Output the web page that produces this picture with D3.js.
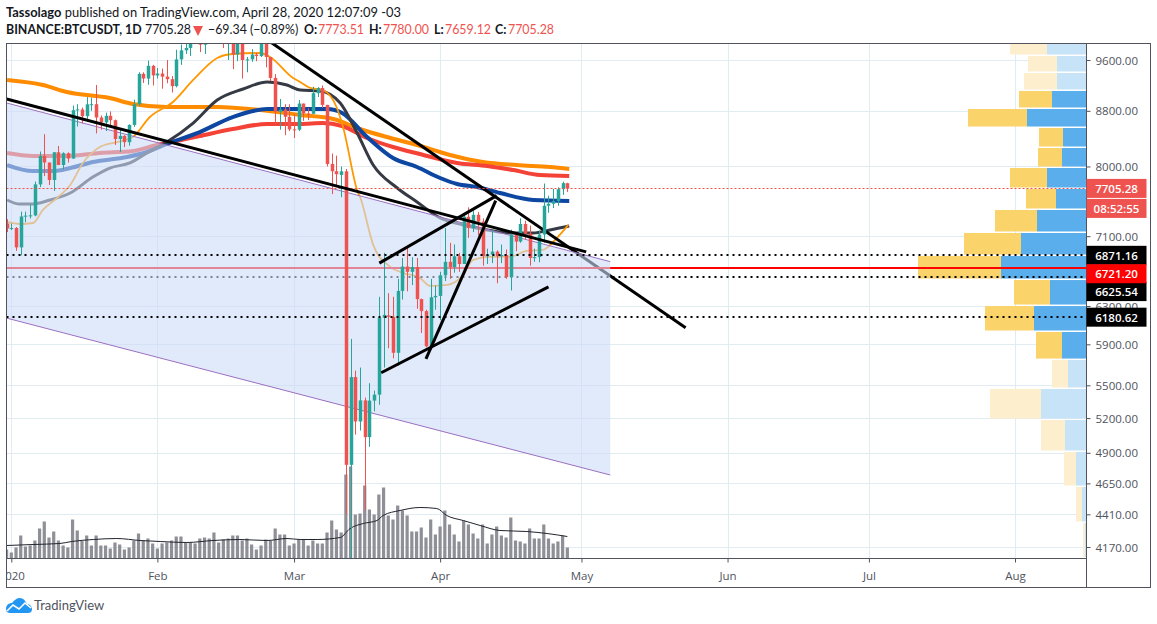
<!DOCTYPE html>
<html>
<head>
<meta charset="utf-8">
<script src="https://cdn.jsdelivr.net/npm/d3@7"></script>
<style>
  html, body { margin: 0; padding: 0; background: #fff; }
  svg { display: block; }
  text { font-family: "Open Sans", sans-serif; }
</style>
</head>
<body>
<svg id="chart" width="1157" height="624"></svg>
<script>
// first candle is 31 Dec 2019, one value per day after that
const candleOpen = [7255,7195,7200,6965,7345,7354,7357,7758,8145,8054,7817,8197,8020,8184,8110,8814,8820,8720,8900,8900,8700,8627,8725,8660,8385,8430,8340,8590,8900,9375,9300,9505,9350,9380,9330,9290,9180,9610,9760,9800,9900,10160,9855,10270,10350,10235,10365,9905,9935,9690,10140,9600,9610,9690,9665,9970,9650,9310,8785,8820,8710,8525,8520,8910,8760,8755,9070,9150,8890,8035,7935,7885,7934,4800,5578,5170,5360,5033,5358,5413,6175,6200,6185,5815,6465,6740,6680,6735,6375,6245,5880,6395,6410,6640,6795,6735,6860,6770,7340,7200,7365,7280,6860,6880,6915,6860,6875,6620,7115,7035,7250,7130,6840,6850,7120,7480,7505,7540,7695,7773.51];
const candleHigh = [7310,7255,7212,7405,7404,7495,7795,8207,8455,8055,8199,8286,8197,8196,8880,8900,8850,9009,9000,9198,8730,8773,8790,8670,8515,8440,8600,8970,9400,9400,9590,9520,9470,9460,9600,9340,9770,9860,9880,9945,10170,10190,10400,10495,10500,10390,10380,10080,9970,10250,10200,9650,9780,9720,9990,10020,9650,9370,8980,8900,8900,8750,8965,8910,8840,9170,9165,9190,8890,8180,8150,8000,7966,5955,5640,5670,5385,5520,5450,6400,6900,6440,6400,6600,6840,6980,6850,6840,6380,6260,6600,6525,6680,7200,7020,7000,6900,7380,7460,7420,7400,7320,6950,7180,6930,7000,6940,7180,7150,7320,7290,7230,6950,7170,7770,7610,7700,7720,7795,7780];
const candleLow = [7150,7175,6924,6871,7272,7318,7346,7723,7870,7750,7672,8030,7960,8055,8105,8567,8612,8672,8800,8467,8520,8500,8570,8300,8200,8270,8290,8560,8875,9230,9200,9190,9300,9140,9225,9080,9160,9520,9700,9666,9885,9730,9700,10240,10090,10130,9800,9600,9450,9580,9300,9400,9570,9580,9650,9480,9260,8600,8520,8440,8500,8400,8500,8650,8660,8750,9010,8845,8000,7630,7735,7590,4410,3782,5055,5090,4442,4950,5260,5320,5670,5860,5760,5690,6370,6460,6530,6270,6015,5870,5850,6260,6150,6575,6600,6670,6680,6770,7080,7150,7110,6750,6770,6780,6550,6780,6600,6470,6920,7020,7060,6750,6795,6790,7020,7390,7450,7480,7620,7659.12];
const candleClose = [7195,7200,6965,7344,7354,7358,7758,8145,8055,7817,8197,8020,8184,8110,8810,8821,8720,8898,8900,8700,8627,8725,8660,8385,8430,8340,8590,8900,9375,9300,9505,9350,9380,9330,9290,9180,9610,9760,9800,9900,10160,9855,10270,10350,10235,10365,9905,9935,9690,10140,9600,9610,9690,9665,9970,9650,9310,8785,8820,8710,8525,8520,8910,8760,8755,9070,9150,8890,8035,7935,7895,7934,4800,5578,5170,5360,5033,5358,5413,6175,6205,6185,5815,6465,6740,6680,6735,6375,6245,5880,6395,6410,6640,6795,6735,6860,6770,7340,7200,7365,7280,6860,6880,6915,6860,6875,6620,7115,7035,7250,7130,6840,6850,7120,7480,7505,7540,7695,7775,7705.28];
const volumes = [9,6,11,23,12,13,18,30,37,21,27,18,13,11,39,28,18,23,13,23,13,13,10,16,14,9,11,18,25,18,20,15,10,15,16,18,22,22,16,16,15,20,21,20,26,16,19,20,23,23,18,20,14,9,13,19,18,30,24,24,13,15,19,19,13,18,15,15,26,38,29,26,84,92,44,45,73,49,44,64,71,43,39,53,48,43,27,27,31,21,39,24,32,48,34,24,17,38,34,25,20,34,15,24,32,23,21,41,18,17,15,30,20,20,34,20,15,17,23,11];

// moving averages, [days since 1 Jan 2020, value]
const maFast = [[-0.9,7275],[1.8,7250],[4.6,7262],[6.7,7426],[9.7,7580],[12.5,7750],[15.2,8048],[18.8,8271],[22.4,8342],[25.8,8414],[29.4,8707],[34.3,8934],[38.6,9277],[43.7,9633],[47,9699],[52.8,9716],[54.9,9650],[59.8,9309],[61.3,9245],[63.4,9151],[66.1,9119],[69.1,8843],[70.4,8560],[73.6,7645],[74,7593],[76.8,6995],[80.4,6737],[83.1,6668],[86.7,6611],[88.9,6521],[92.5,6532],[95.9,6645],[98,6818],[101.6,6853],[105.8,6853],[109.4,6924],[112.8,6936],[115.8,7079],[118.2,7238]];
const maDark = [[-0.9,7554],[1.8,7502],[4.6,7502],[8.2,7554],[12.5,7645],[17.3,7857],[20.9,7979],[25.2,8048],[28.8,8187],[33,8342],[38.6,8618],[43.7,8964],[49.2,9135],[54.3,9245],[58.5,9198],[61.3,9119],[65.5,9104],[69.8,8918],[73.4,8472],[76.8,8020],[81.9,7711],[86.1,7528],[91,7325],[95.9,7238],[101,7176],[105.8,7139],[110.8,7139],[114.3,7176],[118.4,7225]];
const maBlue = [[-0.9,8020],[4.6,7938],[8.9,7938],[12.5,7979],[17.3,8062],[24.6,8131],[28.8,8201],[33,8314],[40,8486],[47,8707],[54.3,8827],[61.3,8827],[67,8827],[70.2,8767],[75.5,8414],[81,8117],[86.1,7993],[91,7844],[94.6,7764],[98.8,7724],[103.7,7645],[110.8,7554],[118.4,7541]];
const maRed = [[-0.9,8187],[4.6,8145],[11.8,8145],[18.8,8187],[25.8,8215],[30.9,8300],[33,8328],[40,8429],[47,8530],[54.3,8604],[61.3,8604],[66.1,8618],[70.2,8574],[75.5,8400],[81,8271],[86.7,8173],[94.6,8048],[101,8007],[106.5,7952],[112.2,7884],[118.4,7871]];
const maOrange = [[-0.9,9277],[6.7,9198],[11.8,9088],[20.9,8995],[25.8,8903],[33,8858],[43.7,8858],[52.8,8812],[61.3,8737],[68.3,8678],[74,8530],[79.7,8414],[86.1,8300],[93.1,8159],[100.1,8062],[107.3,8020],[114.3,7993],[118.4,7966]];
const volumeMa = [[-1,13],[4.6,14],[10.3,15],[12.8,17],[17.4,19],[22.4,20],[27.3,18],[31.6,17],[37.2,16],[42.8,18],[48.5,19],[54.2,18],[58.5,20],[61.3,19],[64.9,19],[69.8,21],[71.9,30],[74.7,35],[77.6,38],[78.9,43],[82.5,48],[86.7,51],[90.3,50],[92.4,43],[95.9,38],[99.5,33],[103.7,28],[109.4,27],[113.7,25],[118,22]];

// hand drawn trend lines, [day, price] at each end
const trendLong = [[-1,8980],[122,6912]];
const trendSteep = [[55,9900],[143.1,6070]];
const forkUpper = [[78.1,6780],[103,7610]];
const forkMiddle = [[102.8,7545],[88,5754]];
const forkLower = [[78.5,5620],[114,6510]];

// parallel channel
const channelTop = [[-1,8919],[127.1,6797]];
const channelBottom = [[-1,6171],[127.1,4717]];

const levelsOver = [6871.16, 6180.62];
const levelsUnder = [6625.54];
const levelRed = 6721.20;
const lastPrice = 7705.28;

const priceTicks = [9600, 8800, 8000, 7100, 6300, 5900, 5500, 5200, 4900, 4650, 4410, 4170];
const monthTicks = ["2020-01-01", "2020-02-01", "2020-03-01", "2020-04-01", "2020-05-01", "2020-06-01", "2020-07-01", "2020-08-01"];
const monthLabels = ["2020", "Feb", "Mar", "Apr", "May", "Jun", "Jul", "Aug"];

// volume profile, rows go from high price to low price
const vpEdges = [9950,9674,9397,9112,8835,8552,8264,7986,7704,7432,7145,6869,6592,6305,6031,5748,5470,5187,4911,4625,4349,4092];
const vpUp = [39.5,29.5,29.5,34.5,59.5,23.5,24.5,39.5,30.5,49.5,65.5,85.5,36.5,52.5,24.5,18.5,45.5,21.5,10.5,4.5,1.5];
const vpDown = [37,29,33,33,59,24,24,37,30,42,57,83,36,49,26,16,51,24,12,6,2];
const vpFaded = [true,true,true,false,false,false,false,false,false,false,false,false,false,false,false,true,true,true,true,true,true];

const svg = d3.select("#chart");
const paneLeft = 6.5, paneRight = 1086.5, paneTop = 43.5, paneBottom = 558.5, outerRight = 1150.5, outerBottom = 587.5;

const dayMs = 864e5;
const t0 = Date.UTC(2020, 0, 1);
const dayToDate = d => new Date(t0 + d * dayMs);

const x = d3.scaleUtc()
  .domain([new Date("2020-01-01"), new Date("2020-08-01")])
  .range([11.3, 1015]);

const y = d3.scaleLog()
  .domain([9600, 4170])
  .range([60, 547]);

const yVol = d3.scaleLinear().domain([0, 100]).range([paneBottom, paneBottom - 100]);
const vpWidth = d3.scaleLinear().domain([0, 100]).range([0, 100]);

const defs = svg.append("defs");
defs.append("clipPath").attr("id", "pane").append("rect")
  .attr("x", paneLeft).attr("y", paneTop).attr("width", paneRight - paneLeft).attr("height", paneBottom - paneTop);
defs.append("clipPath").attr("id", "timeBand").append("rect")
  .attr("x", paneLeft).attr("y", paneBottom).attr("width", paneRight - paneLeft).attr("height", outerBottom - paneBottom);

const pane = svg.append("g").attr("clip-path", "url(#pane)");

// Grid
const gridColor = "#e0ebf2";
pane.append("g").selectAll("line").data(priceTicks).enter().append("line")
  .attr("x1", paneLeft).attr("x2", paneRight)
  .attr("y1", d => Math.round(y(d)) + 0.5).attr("y2", d => Math.round(y(d)) + 0.5)
  .attr("stroke", gridColor);
pane.append("g").selectAll("line").data(monthTicks).enter().append("line")
  .attr("y1", paneTop).attr("y2", paneBottom)
  .attr("x1", d => Math.round(x(new Date(d))) + 0.5).attr("x2", d => Math.round(x(new Date(d))) + 0.5)
  .attr("stroke", gridColor);

// Volume profile
const vpRows = vpUp.map((u, i) => ({ up: u, down: vpDown[i], hi: vpEdges[i], lo: vpEdges[i + 1], faded: vpFaded[i] }));
pane.append("g").selectAll("rect").data(vpRows).enter().append("rect")
  .attr("x", d => paneRight - vpWidth(d.up))
  .attr("y", d => y(d.hi) + 0.5)
  .attr("width", d => vpWidth(d.up))
  .attr("height", d => y(d.lo) - y(d.hi) - 1.5)
  .attr("fill", d => d.faded ? "#c6e3f7" : "#5aaeec");
pane.append("g").selectAll("rect").data(vpRows).enter().append("rect")
  .attr("x", d => paneRight - vpWidth(d.up) - vpWidth(d.down))
  .attr("y", d => y(d.hi) + 0.5)
  .attr("width", d => vpWidth(d.down))
  .attr("height", d => y(d.lo) - y(d.hi) - 1.5)
  .attr("fill", d => d.faded ? "#fdefce" : "#fbd36b");

// Volume bars
pane.append("g").selectAll("rect").data(volumes).enter().append("rect")
  .attr("x", (d, i) => x(dayToDate(i - 1)) - 1.6)
  .attr("y", d => yVol(d))
  .attr("width", 3.2)
  .attr("height", d => paneBottom - yVol(d))
  .attr("fill", "#8f8f97");

const maLine = d3.line()
  .x(d => x(dayToDate(d[0])))
  .y(d => y(d[1]))
  .curve(d3.curveMonotoneX);

pane.append("path").datum(volumeMa)
  .attr("fill", "none").attr("stroke", "#22242e").attr("stroke-width", 1)
  .attr("d", d3.line().x(d => x(dayToDate(d[0]))).y(d => yVol(d[1])).curve(d3.curveMonotoneX));

// Moving averages, these end up under the channel fill
const maStyles = [
  [maOrange, "#ff8c00", 4],
  [maRed, "#f44336", 4],
  [maBlue, "#0d47a1", 4],
  [maDark, "#363a45", 3],
  [maFast, "#ff9800", 1.8],
];
maStyles.forEach(([data, color, w]) => {
  pane.append("path").datum(data)
    .attr("fill", "none").attr("stroke", color).attr("stroke-width", w)
    .attr("stroke-linejoin", "round").attr("d", maLine);
});

const trendLine = d3.line().x(d => x(dayToDate(d[0]))).y(d => y(d[1]));

function drawTrend(data) {
  pane.append("path").datum(data)
    .attr("fill", "none").attr("stroke", "#000").attr("stroke-width", 3)
    .attr("d", trendLine);
}

function drawLevel(v, color, w, dash) {
  pane.append("line")
    .attr("x1", paneLeft).attr("x2", paneRight)
    .attr("y1", Math.round(y(v))).attr("y2", Math.round(y(v)))
    .attr("stroke", color).attr("stroke-width", w)
    .attr("stroke-dasharray", dash);
}

drawTrend(trendSteep);
levelsUnder.forEach(v => drawLevel(v, "#000", 2, "2 4"));
drawLevel(levelRed, "#ff0000", 2, null);

// Channel fill goes over the indicators
const channelPoly = channelTop.concat(channelBottom.slice().reverse());
pane.append("path").datum(channelPoly)
  .attr("fill", "rgba(205,220,248,0.6)")
  .attr("d", d3.line().x(d => x(dayToDate(d[0]))).y(d => y(d[1])));
[channelTop, channelBottom].forEach(c => {
  pane.append("path").datum(c)
    .attr("fill", "none").attr("stroke", "#9c6fc0").attr("stroke-width", 1)
    .attr("d", trendLine);
});

// Candles
const candles = candleOpen.map((o, i) => ({
  day: i - 1, open: o, high: candleHigh[i], low: candleLow[i], close: candleClose[i],
}));
const upColor = "#26a69a", downColor = "#ef5350";
const candleColor = d => d.close >= d.open ? upColor : downColor;
const candleX = d => Math.round(x(dayToDate(d.day)));

pane.append("g").selectAll("line").data(candles).enter().append("line")
  .attr("x1", d => candleX(d) + 0.5).attr("x2", d => candleX(d) + 0.5)
  .attr("y1", d => y(d.high)).attr("y2", d => y(d.low))
  .attr("stroke", candleColor);
pane.append("g").selectAll("rect").data(candles).enter().append("rect")
  .attr("x", d => candleX(d) - 1.25)
  .attr("y", d => y(Math.max(d.open, d.close)))
  .attr("width", 3.5)
  .attr("height", d => Math.max(1, Math.abs(y(d.open) - y(d.close))))
  .attr("fill", candleColor);

// Last price dotted line
pane.append("line")
  .attr("x1", paneLeft).attr("x2", paneRight)
  .attr("y1", Math.round(y(lastPrice)) + 0.5).attr("y2", Math.round(y(lastPrice)) + 0.5)
  .attr("stroke", "#ef5350").attr("stroke-dasharray", "2 2");

[trendLong, forkUpper, forkMiddle, forkLower].forEach(drawTrend);
levelsOver.forEach(v => drawLevel(v, "#000", 2, "2 4"));

// Frame
const frameColor = "#50535e";
svg.append("rect")
  .attr("x", paneLeft).attr("y", paneTop).attr("width", outerRight - paneLeft).attr("height", outerBottom - paneTop)
  .attr("fill", "none").attr("stroke", frameColor);

// Axes
const timeAxis = d3.axisBottom(x)
  .tickValues(monthTicks.map(d => new Date(d)))
  .tickFormat((d, i) => monthLabels[i])
  .tickSizeInner(4).tickSizeOuter(0).tickPadding(9);
const timeG = svg.append("g")
  .attr("clip-path", "url(#timeBand)")
  .append("g")
  .attr("transform", `translate(0,${paneBottom})`)
  .call(timeAxis);

const priceAxis = d3.axisRight(y)
  .tickValues(priceTicks)
  .tickFormat(d3.format(".2f"))
  .tickSizeInner(4).tickSizeOuter(0).tickPadding(5);
const priceG = svg.append("g")
  .attr("transform", `translate(${paneRight},0)`)
  .call(priceAxis);

[timeG, priceG].forEach(g => {
  g.select(".domain").remove();
  g.selectAll("line").attr("stroke", frameColor);
  g.selectAll("text").attr("fill", frameColor).style("font-size", "11.5px").style("font-family", '"Open Sans", sans-serif');
});
priceG.selectAll("text").attr("dy", ".36em");

svg.append("line").attr("x1", paneLeft).attr("x2", paneRight).attr("y1", paneBottom).attr("y2", paneBottom).attr("stroke", frameColor);
svg.append("line").attr("x1", paneRight).attr("x2", paneRight).attr("y1", paneTop).attr("y2", outerBottom).attr("stroke", frameColor);

// Price tags on the axis, the low ones get pushed apart
const tags = [
  { label: "6180.62", value: 6180.62, shift: 0, fill: "#000" },
  { label: "6625.54", value: 6625.54, shift: 15, fill: "#000" },
  { label: "6871.16", value: 6871.16, shift: 0, fill: "#000" },
  { label: "6721.20", value: 6721.20, shift: 5.5, fill: "#ff0000" },
  { label: "7705.28", value: 7705.28, shift: 0, fill: "#ef5350" },
  { label: "08:52:55", value: 7705.28, shift: 20, fill: "#ef5350" },
];
const tagG = svg.append("g").selectAll("g").data(tags).enter().append("g")
  .attr("transform", d => `translate(${paneRight},${y(d.value) + d.shift})`);
tagG.append("rect")
  .attr("x", 0).attr("y", -9.5).attr("width", 60).attr("height", 19)
  .attr("fill", d => d.fill);
tagG.append("text")
  .attr("x", 30).attr("y", 4.5)
  .attr("text-anchor", "middle")
  .attr("fill", "#fff")
  .style("font-size", "11.5px").style("font-weight", 600)
  .text(d => d.label);

// Header
const ink = "#131722";
const header = svg.append("g");
const line1 = header.append("text").attr("x", 6).attr("y", 17).attr("fill", ink)
  .style("font-family", "Lato, sans-serif").style("font-size", "12.9px");
line1.append("tspan").style("font-weight", 700).text("Tassolago");
line1.append("tspan").text(" published on TradingView.com, April 28, 2020 12:07:09 -03");

const headerRuns = [
  ["BINANCE:BTCUSDT, 1D", 6, ink, 700],
  ["7705.28", 145, ink, 400],
  ["\u221269.34 (\u22120.89%)", 208, ink, 400],
  ["O:", 304, ink, 700],
  ["7773.51", 318, "#ef5350", 400],
  ["H:", 369, ink, 700],
  ["7780.00", 383, "#ef5350", 400],
  ["L:", 434, ink, 700],
  ["7659.12", 445, "#ef5350", 400],
  ["C:", 495, ink, 700],
  ["7705.28", 508, "#ef5350", 400],
];
header.append("g").selectAll("text").data(headerRuns).enter().append("text")
  .attr("x", d => d[1]).attr("y", 34)
  .attr("fill", d => d[2]).style("font-weight", d => d[3])
  .style("font-family", "Lato, sans-serif").style("font-size", "12.4px")
  .text(d => d[0]);
svg.append("path").attr("d", "M193 26h10l-5 10z").attr("fill", "#ef5350");

// Logo
svg.append("path")
  .attr("d", "M6 609C6 605 9 603 12 603C14 600 17 598 20 598C23 598 25 600 27 604C30 604 32 607 32 609C32 612 30 613 28 613L10 613C8 613 6 612 6 609Z")
  .attr("fill", "#2196f3");
svg.append("path")
  .attr("d", "M7 611L13 605L19 609L25 603L31 608")
  .attr("fill", "none").attr("stroke", "#fff").attr("stroke-width", 1.6);
svg.append("text").attr("x", 34).attr("y", 610)
  .attr("fill", frameColor).style("font-size", "13px").style("font-family", "Lato, sans-serif")
  .text("TradingView");
</script>
</body>
</html>
